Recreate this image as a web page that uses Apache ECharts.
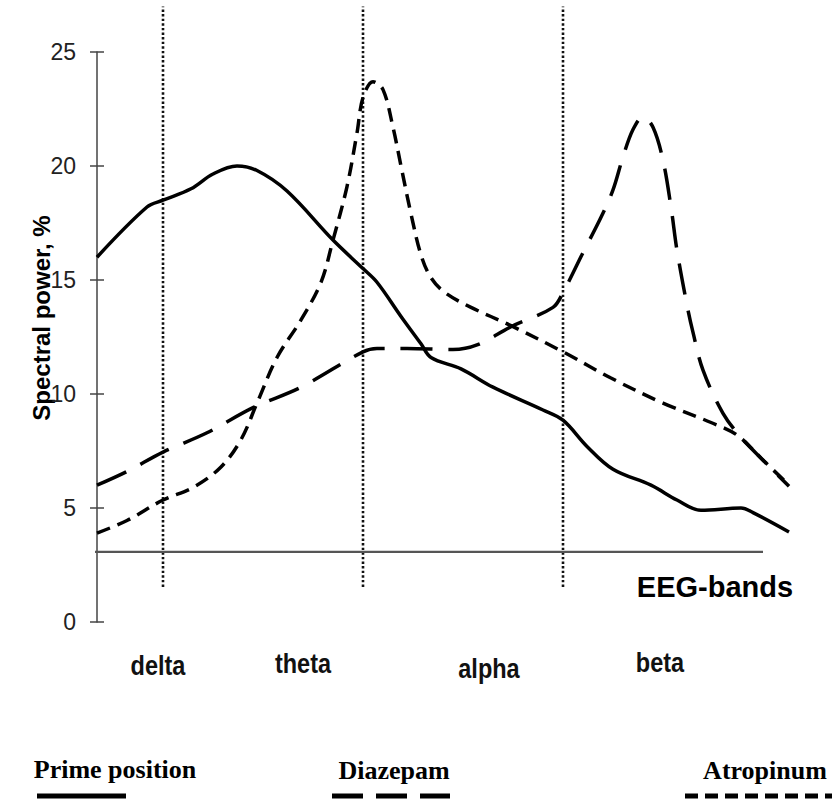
<!DOCTYPE html>
<html><head><meta charset="utf-8">
<script src="https://cdn.jsdelivr.net/npm/echarts@6/dist/echarts.min.js"></script>
<style>html,body{margin:0;padding:0;background:#fff}#c{width:832px;height:799px}</style>
</head><body><div id="c"></div>
<script>
// ---- data ----
const bandNames = ['delta', 'theta', 'alpha', 'beta'];
const bandBoundaries = [1, 2, 3];          // dotted separators, in band units
const dividerRange = [1.54, 27.0];         // vertical extent of separators (y values)
const baselineX = [0.22, 4.0];             // horizontal reference line extent
const baselineY = 3.08;
const yMin = 0, yMax = 25, yStep = 5;
const xMin = 0.67, xMax = 4.14;
const seriesNames = ['Prime position', 'Diazepam', 'Atropinum'];

const primeX = [0.67,0.92,1.0,1.14,1.25,1.37,1.47,1.62,1.85,2.0,2.07,2.19,2.29,2.34,2.49,2.65,2.9,3.0,3.12,3.25,3.44,3.57,3.69,3.89,3.95,4.13];
const primeY = [16.0,18.2,18.5,19.0,19.65,20.0,19.8,18.9,16.75,15.5,14.9,13.4,12.2,11.6,11.1,10.3,9.3,8.85,7.7,6.7,6.0,5.35,4.9,5.0,4.8,3.95];

const diazX = [0.67,0.82,1.0,1.22,1.45,1.69,2.0,2.07,2.22,2.45,2.57,2.74,2.95,3.0,3.1,3.19,3.25,3.3,3.35,3.4,3.45,3.5,3.54,3.57,3.62,3.65,3.7,3.8,3.89,4.0,4.13];
const diazY = [6.0,6.6,7.45,8.3,9.4,10.3,11.85,12.0,12.0,11.95,12.15,12.95,13.8,14.45,16.2,17.75,18.95,20.4,21.6,22.15,21.7,20.25,18.2,16.3,13.9,12.7,11.05,9.15,8.1,7.1,5.95];

const atroX = [0.67,0.82,1.0,1.15,1.29,1.39,1.47,1.57,1.69,1.79,1.85,1.92,1.97,2.0,2.05,2.1,2.15,2.19,2.24,2.29,2.34,2.41,2.54,2.74,3.0,3.24,3.5,3.74,3.87,4.0,4.13];
const atroY = [3.9,4.45,5.35,5.9,6.8,8.0,9.6,11.6,13.25,14.9,16.75,19.1,21.45,23.0,23.7,23.35,21.7,20.0,17.9,16.1,15.1,14.45,13.8,13.0,11.85,10.7,9.6,8.75,8.2,7.1,6.0];

// ---- chart ----
const zip = (xs, ys) => xs.map((x, i) => [x, ys[i]]);
const curveStyles = [
  { type: 'solid', width: 3.5 },
  { type: [32, 16], width: 3.5 },
  { type: [14, 8], width: 3.5 }
];
const curves = [zip(primeX, primeY), zip(diazX, diazY), zip(atroX, atroY)];

const chart = echarts.init(document.getElementById('c'), null, { renderer: 'svg' });

const series = [];
bandBoundaries.forEach(b => {
  series.push({
    type: 'line', silent: true, clip: false, symbol: 'none', z: 1,
    data: [[b, dividerRange[0]], [b, dividerRange[1]]],
    lineStyle: { color: '#111', width: 2.6, type: [2.4, 2.2], cap: 'butt' }
  });
});
series.push({
  type: 'line', silent: true, clip: false, symbol: 'none', z: 1,
  data: [[baselineX[0], baselineY], [baselineX[1], baselineY]],
  lineStyle: { color: '#555', width: 2.2, type: 'solid' }
});
curves.forEach((d, i) => {
  series.push({
    name: seriesNames[i], type: 'line', data: d, symbol: 'none', smooth: 0.35, z: 3,
    clip: false,
    lineStyle: { color: '#000', width: curveStyles[i].width, type: curveStyles[i].type, cap: 'butt' }
  });
});

// text/legend positions (layout only)
const bandLabelPos = [[158, 665], [303, 663], [489, 668], [660, 662]];
const legendTextPos = [[115, 769], [394, 770], [765, 770]];
const legendLines = [
  { x1: 37, x2: 126, dash: null },
  { x1: 332, x2: 450, dash: [31, 13] },
  { x1: 685, x2: 832, dash: [13, 7] }
];

const graphic = [];
bandNames.forEach((n, i) => {
  graphic.push({
    type: 'text', x: bandLabelPos[i][0], y: bandLabelPos[i][1], scaleX: 0.84,
    style: { text: n, fontSize: 28, fontWeight: 'bold', fontFamily: '"Liberation Sans", Arial, sans-serif',
      fill: '#111', align: 'center', verticalAlign: 'middle', textAlign: 'center', textVerticalAlign: 'middle' }
  });
});
seriesNames.forEach((n, i) => {
  graphic.push({
    type: 'text', x: legendTextPos[i][0], y: legendTextPos[i][1],
    style: { text: n, fontSize: 26, fontWeight: 'bold', fontFamily: '"Liberation Serif", "Times New Roman", serif',
      fill: '#000', align: 'center', verticalAlign: 'middle', textAlign: 'center', textVerticalAlign: 'middle' }
  });
  const L = legendLines[i];
  graphic.push({
    type: 'line', shape: { x1: L.x1, y1: 796, x2: L.x2, y2: 796 },
    style: { stroke: '#000', lineWidth: 5, lineDash: L.dash || null }
  });
});
graphic.push({
  type: 'text', x: 715, y: 587,
  style: { text: 'EEG-bands', fontSize: 29, fontWeight: 'bold', fontFamily: '"Liberation Sans", Arial, sans-serif',
    fill: '#000', align: 'center', verticalAlign: 'middle', textAlign: 'center', textVerticalAlign: 'middle' }
});
graphic.push({
  type: 'text', x: 41, y: 318, rotation: Math.PI / 2,
  style: { text: 'Spectral power, %', fontSize: 24, fontWeight: 'bold', fontFamily: '"Liberation Sans", Arial, sans-serif',
    fill: '#000', align: 'center', verticalAlign: 'middle', textAlign: 'center', textVerticalAlign: 'middle' }
});

chart.setOption({
  animation: false,
  backgroundColor: '#fff',
  grid: { left: 97, right: 41, top: 52, bottom: 177, containLabel: false },
  xAxis: {
    type: 'value', min: xMin, max: xMax,
    axisLine: { show: false }, axisTick: { show: false }, axisLabel: { show: false }, splitLine: { show: false }
  },
  yAxis: [
    {
      type: 'value', min: yMin, max: yMax, interval: yStep, position: 'left',
      axisLine: { show: true, lineStyle: { color: '#444', width: 1.5 } },
      axisTick: { show: true, inside: false, length: 7, lineStyle: { color: '#444', width: 1.5 } },
      axisLabel: { show: true, margin: 21, fontSize: 23, color: '#222', fontFamily: '"Liberation Sans", Arial, sans-serif' },
      splitLine: { show: false }
    },
    {
      type: 'value', min: yMin, max: yMax, interval: yStep, position: 'left',
      axisLine: { show: false },
      axisTick: { show: true, inside: true, length: 7, lineStyle: { color: '#444', width: 1.5 } },
      axisLabel: { show: false }, splitLine: { show: false }
    }
  ],
  series: series,
  graphic: graphic
});
</script>
</body></html>
